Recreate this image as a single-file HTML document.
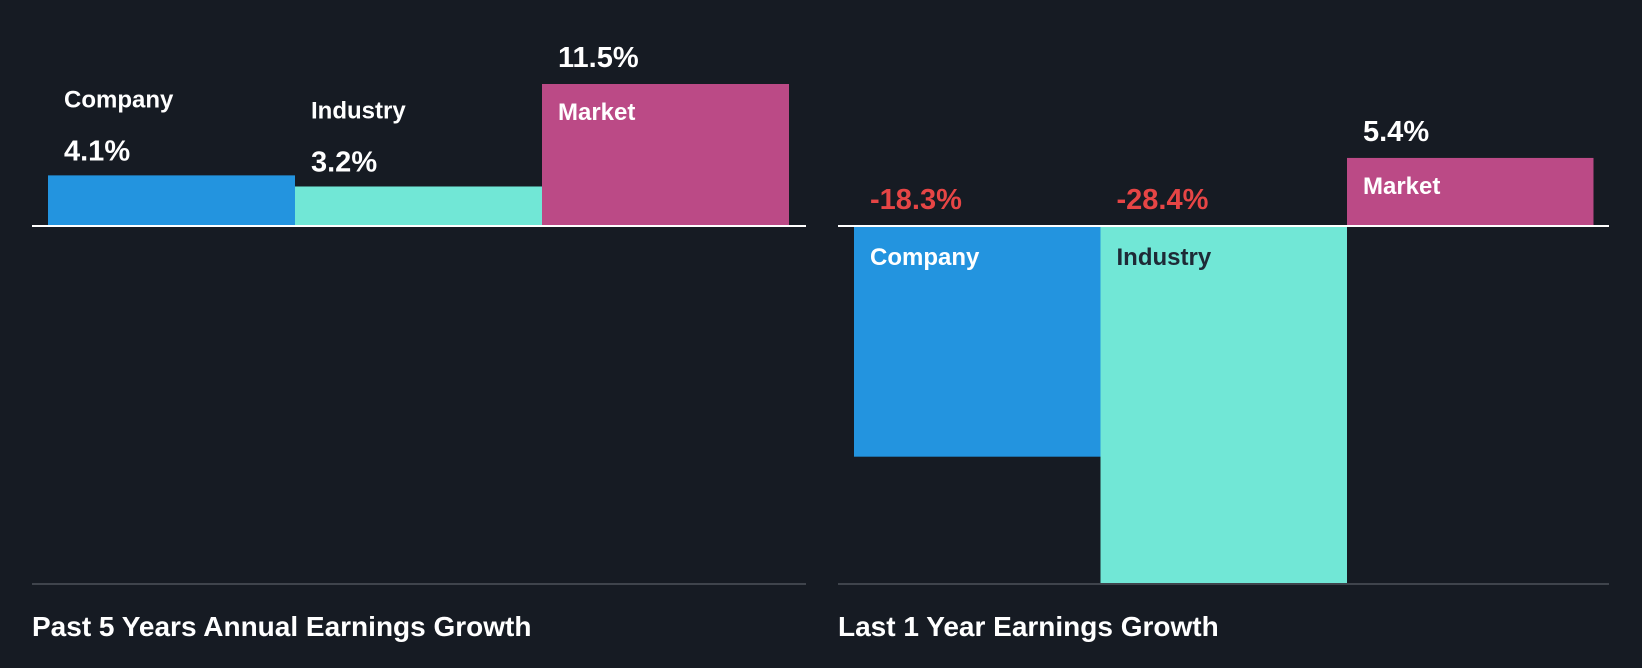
<!DOCTYPE html>
<html><head><meta charset="utf-8"><style>
html,body{margin:0;padding:0;background:#161b23;}
svg{display:block;font-family:"Liberation Sans",Arial,sans-serif;font-weight:bold;}
</style></head><body>
<svg id="chart" width="1642" height="668">
<rect width="1642" height="668" fill="#161b23"/>
</svg>
<script>
const categories = ["Company", "Industry", "Market"];
const past5Values = [4.1, 3.2, 11.5];
const last1Values = [-18.3, -28.4, 5.4];
const panelTitles = ["Past 5 Years Annual Earnings Growth", "Last 1 Year Earnings Growth"];

const NS = "http://www.w3.org/2000/svg";
const svg = document.getElementById("chart");
const colors = ["#2394df", "#71e7d6", "#bb4a86"];
const baseY = 226, bottomY = 584;

function mk(tag, attrs, text) {
  const el = document.createElementNS(NS, tag);
  for (const k in attrs) el.setAttribute(k, attrs[k]);
  if (text !== undefined) el.textContent = text;
  svg.appendChild(el);
  return el;
}

function drawPanel(values, title, axisX0, axisX1, barX0, barW, idx) {
  const maxPos = Math.max(0, ...values);
  const minNeg = Math.min(0, ...values);
  const pxPerUnit = minNeg < 0 ? (bottomY - baseY) / (-minNeg) : 142 / maxPos;
  const scale = v => v * pxPerUnit;
  const yOf = v => baseY - scale(v);

  values.forEach((v, i) => {
    const x = barX0 + i * barW;
    const y0 = Math.min(yOf(v), baseY), h = Math.abs(scale(v));
    const r = mk("rect", {x: x, y: y0, width: barW, height: h, fill: colors[i]});
    
    
    const tx = x + 16;
    const valStr = v.toFixed(1) + "%";
    let labelY, valY, labelFill = "#ffffff", valFill = "#ffffff";
    if (v < 0) {
      valY = baseY - 17; labelY = baseY + 39; valFill = "#e64545";
      if (i === 1) labelFill = "#1e2a36";
    } else if (h > 60) {
      valY = y0 - 17; labelY = y0 + 36;
    } else {
      valY = y0 - 15; labelY = y0 - 68;
    }
    const vt = mk("text", {x: tx, y: valY, fill: valFill, "font-size": 29}, valStr);
    
    
    const lt = mk("text", {x: tx, y: labelY, fill: labelFill, "font-size": 24}, categories[i]);
    
    
  });

  const zl = mk("line", {x1: axisX0, x2: axisX1, y1: baseY, y2: baseY, stroke: "#ffffff", "stroke-width": 2});
  
  
  const bl = mk("line", {x1: axisX0, x2: axisX1, y1: bottomY, y2: bottomY, stroke: "#3f444c", "stroke-width": 2});
  
  
  const t = mk("text", {x: axisX0, y: 636, fill: "#ffffff", "font-size": 28}, title);
  
  
}

drawPanel(past5Values, panelTitles[0], 32, 806, 48, 247, 0);
drawPanel(last1Values, panelTitles[1], 838, 1609, 854, 246.5, 1);
</script>
</body></html>
